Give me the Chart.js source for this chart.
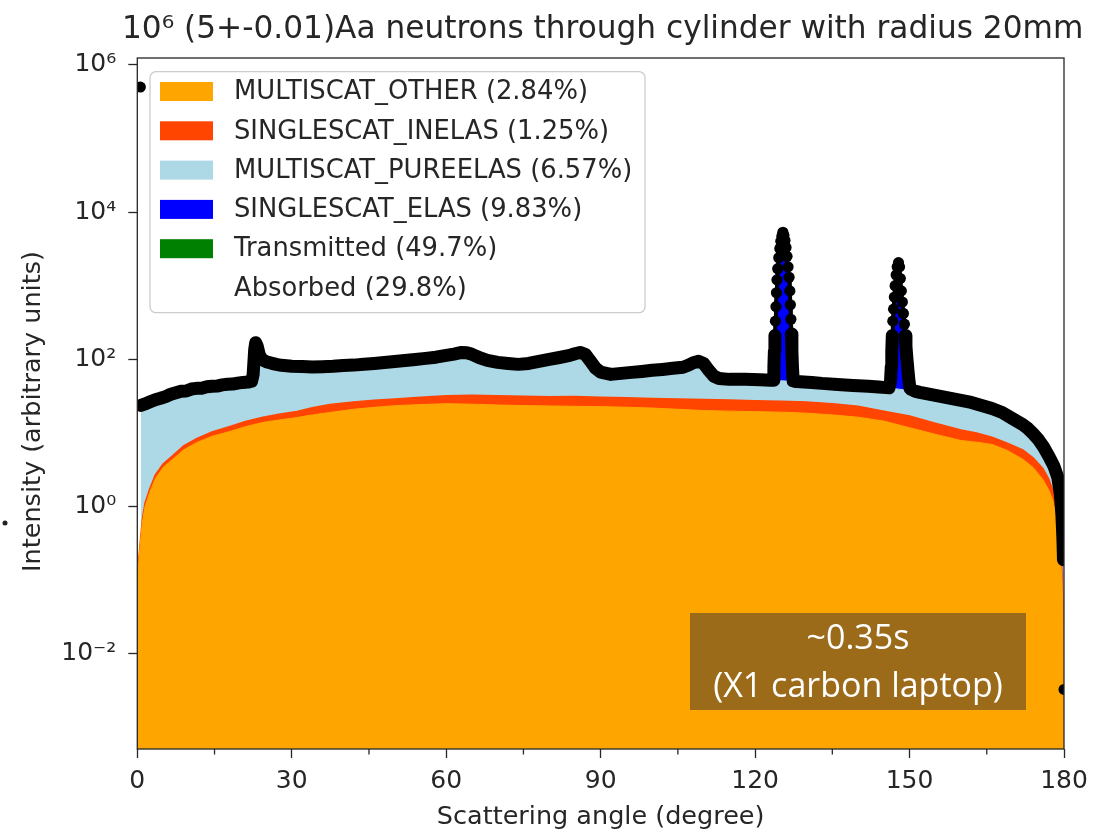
<!DOCTYPE html>
<html>
<head>
<meta charset="utf-8">
<script src="https://cdn.jsdelivr.net/npm/chart.js@4.4.1/dist/chart.umd.min.js"></script>
<style>
  html, body { margin: 0; padding: 0; background: #fff; }
  #contenedorCanvas { width: 1103px; height: 829px; }
</style>
</head>
<body>
<div id="contenedorCanvas"><canvas id="grafNeutrones" width="1103" height="829"></canvas></div>
<script>

// nivel superior de la banda negra / azul claro (sin los picos de Bragg)
let anguloBase = [0.7, 1.5, 2.5, 3.5, 4.5, 5.5, 6.5, 7.5, 8.5, 9.5, 10.5, 11.5, 12.5, 13.5, 14.5, 15.5,
    16.5, 17.5, 18.5, 19.5, 20.5, 21.5, 22.2, 22.5, 22.8, 23.0, 23.3, 23.7, 24.2, 25, 26, 27, 28, 30, 32,
    34, 36, 38, 40, 42, 44, 46, 48, 50, 52, 54, 56, 58, 60, 61.5, 63, 64, 65, 66.5, 68, 70, 72, 74, 76,
    78, 80, 82, 84, 85, 86, 87, 88, 89, 90, 92, 94, 96, 98, 100, 102, 104, 106, 107, 108, 109, 110, 111,
    112, 113, 115, 118, 121, 123, 128, 131, 133, 136, 139, 142, 144, 145.5, 151, 152, 154, 156, 158, 160,
    162, 164, 166, 168, 170, 171, 172, 173, 174, 175, 176, 177, 178, 178.8, 179.3, 179.6, 179.8, 179.9]
let cuentaBase = [23.7, 24.8, 26.5, 28.3, 29.6, 31.2, 33.6, 35.2, 36.9, 37.2, 39.5, 40.4, 40.6, 42.4, 43.1, 43.4,
    45.0, 45.9, 46.1, 47.6, 48.6, 49.1, 50.5, 62, 135, 168, 150, 115, 100, 93, 89, 85.5, 83, 80.5, 80,
    78.5, 79.5, 80.5, 82.5, 83.5, 85.5, 88, 90.5, 93.5, 96.5, 99.5, 103, 107, 113, 118, 124, 123, 117, 105, 97, 91, 88, 85.5, 88,
    94, 100, 106, 113, 119, 124, 117, 95, 76, 67, 62.5, 64.5, 66.5, 68.5, 71, 73, 75.5, 78, 83, 90, 94, 88, 71,
    59, 55, 53.5, 53.5, 53, 52, 50, 48.6, 47.2, 45.7, 44.3, 43, 42, 41.3, 37, 35.6, 33.4, 31.4, 29.5, 27.7,
    26, 23.7, 21.5, 19, 15.7, 14.3, 13, 11.5, 9.8, 8.2, 6.5, 4.9, 3.6, 2.5, 1.46, 0.76, 0.35, 0.19]

// picos de dispersion elastica simple (SINGLESCAT_ELAS encima del fondo)
let anguloPico = [123.5, 123.65, 123.75, 123.85, 123.95, 124.05, 124.15, 124.25, 124.4, 124.6, 124.8, 125.0,
    125.2, 125.4, 125.6, 125.8, 126.0, 126.2, 126.4, 126.6, 126.75, 126.85, 126.95, 127.05, 127.15, 127.25, 127.4,
    146.0, 146.3, 146.45, 146.55, 146.65, 146.75, 146.9, 147.05, 147.2, 147.4, 147.6, 147.85, 148.05, 148.2,
    148.4, 148.6, 148.8, 149.0, 149.15, 149.3, 149.5, 149.7, 149.9, 150.1]
let cuentaPico = [52, 80, 130, 210, 330, 520, 800, 1200, 1700, 2400, 3200, 4000,
    4700, 5300, 4800, 4100, 3300, 2500, 1800, 1300, 850, 550, 350, 220, 130, 80, 51,
    41, 50, 80, 130, 210, 330, 480, 700, 1000, 1400, 1800, 2050, 1800, 1250,
    850, 600, 420, 300, 210, 150, 100, 70, 50, 40]

// bins sueltos: transmitidos en 0 grados y el ultimo bin
let anguloAislado = [0.6, 180]
let cuentaAislado = [497000, 0.0033]

// niveles apilados de MULTISCAT_OTHER y SINGLESCAT_INELAS
let anguloOtros = [0, 0.3, 0.6, 1.0, 1.5, 2.4, 3.5, 5, 6.9, 9, 11.5, 14.5, 18, 21, 24.4, 27.5, 31, 34, 37.4,
    42, 46, 50, 55, 60, 65, 70, 75, 80, 85, 90, 95, 100, 105, 110, 115, 120, 125, 130, 135, 140, 145,
    150, 155, 160, 163, 166, 169, 172, 174, 175.9, 177, 177.8, 178.4, 178.8, 179.2, 179.6, 179.8, 180]
let nivelOtros = [0.1, 0.18, 0.32, 0.62, 1.0, 1.55, 2.4, 3.4, 4.4, 5.9, 7.4, 9.0, 10.5, 12.2, 13.9, 15.0, 16.2, 17.6, 19.0,
    21.0, 22.3, 23.5, 24.3, 25.0, 24.6, 24.0, 23.6, 23.3, 23.0, 22.8, 22.4, 21.8, 21.0, 20.2, 19.8, 19.5, 19.2, 18.6, 17.6, 16.4, 14.5,
    11.8, 9.6, 7.9, 7.5, 7.0, 5.8, 4.4, 3.4, 2.33, 1.7, 1.24, 0.8, 0.49, 0.25, 0.10, 0.036, 0.0015]
let nivelInelas = [0.11, 0.2, 0.35, 0.69, 1.12, 1.74, 2.7, 3.8, 4.95, 6.7, 8.4, 10.3, 12.3, 14.3, 16.4, 18.0, 19.6, 22.0, 24.4,
    26.3, 27.8, 29.0, 30.5, 32.0, 32.5, 32.0, 31.5, 31.0, 31.2, 30.5, 30.0, 29.5, 29.0, 28.4, 28.0, 27.5, 27.0, 26.3, 25.0, 23.0, 19.8,
    17.0, 13.6, 11.0, 10.0, 8.8, 7.3, 5.9, 4.6, 3.3, 2.4, 1.7, 1.1, 0.68, 0.34, 0.14, 0.05, 0.002]

let componentes = ['MULTISCAT_OTHER', 'SINGLESCAT_INELAS', 'MULTISCAT_PUREELAS', 'SINGLESCAT_ELAS', 'Transmitted', 'Absorbed']
let porcentajes = ['2.84', '1.25', '6.57', '9.83', '49.7', '29.8']
let colores = ['#ffa500', '#ff4500', '#add8e6', '#0000ff', '#008000', null]

let marcasX = [0, 30, 60, 90, 120, 150, 180]
let marcasMenoresX = [15, 45, 75, 105, 135, 165]
let valoresY = [1e-2, 1, 1e2, 1e4, 1e6]
let etiquetasY = ['10⁻²', '10⁰', '10²', '10⁴', '10⁶']

let titulo = '10⁶ (5+-0.01)Aa neutrons through cylinder with radius 20mm'
let tituloY = 'Intensity (arbitrary units)'
let nota = ['~0.35s', '(X1 carbon laptop)']

let colorTexto = '#262626'
Chart.defaults.font.family = "'DejaVu Sans', sans-serif"
Chart.defaults.color = colorTexto

let aPuntos = (xs, ys) => xs.map((a, i) => ({x: a, y: ys[i]}))
let puntosBase = aPuntos(anguloBase, cuentaBase)
let puntosTotal = puntosBase.concat(aPuntos(anguloPico, cuentaPico)).sort((p, q) => p.x - q.x)

// marco completo, marcas menores, titulos, leyenda y recuadro de tiempo
let extras = {
    id: 'extras',
    afterDatasetsDraw(chart) {
        let ctx = chart.ctx
        let area = chart.chartArea
        let ejeX = chart.scales.x
        ctx.save()
        ctx.strokeStyle = colorTexto
        ctx.lineWidth = 1.3
        marcasMenoresX.forEach(v => {
            let px = ejeX.getPixelForValue(v)
            ctx.beginPath()
            ctx.moveTo(px, area.bottom)
            ctx.lineTo(px, area.bottom + 5.5)
            ctx.stroke()
        })
        ctx.strokeRect(area.left, area.top, area.right - area.left, area.bottom - area.top)
        ctx.restore()
    },
    afterDraw(chart) {
        let ctx = chart.ctx
        let area = chart.chartArea
        ctx.save()

        ctx.fillStyle = colorTexto
        ctx.font = "31.2px 'DejaVu Sans'"
        ctx.textAlign = 'center'
        ctx.textBaseline = 'alphabetic'
        ctx.fillText(titulo, (area.left + area.right) / 2 + 2, area.top - 20)

        ctx.save()
        ctx.translate(33, (area.top + area.bottom) / 2 + 8)
        ctx.rotate(-Math.PI / 2)
        ctx.font = "25.5px 'DejaVu Sans'"
        ctx.textBaseline = 'middle'
        ctx.fillText(tituloY, 0, 0)
        ctx.restore()

        let x0 = area.left + 12.7
        let y0 = area.top + 13.7
        ctx.beginPath()
        ctx.roundRect(x0, y0, 495, 241, 6)
        ctx.fillStyle = 'rgba(255,255,255,0.8)'
        ctx.fill()
        ctx.strokeStyle = '#cccccc'
        ctx.lineWidth = 1.3
        ctx.stroke()

        ctx.font = "25.8px 'DejaVu Sans'"
        ctx.textAlign = 'left'
        ctx.textBaseline = 'middle'
        componentes.forEach((c, i) => {
            let yc = y0 + 19.8 + i * 39.3
            if (colores[i]) {
                ctx.fillStyle = colores[i]
                ctx.fillRect(x0 + 10, yc - 9.5, 53, 19)
            }
            ctx.fillStyle = colorTexto
            ctx.fillText(`${c} (${porcentajes[i]}%)`, x0 + 84, yc + 1)
        })

        ctx.fillStyle = '#9b6b1a'
        ctx.fillRect(690, 613, 336, 97)
        ctx.fillStyle = '#ffffff'
        ctx.font = "34px 'Open Sans'"
        ctx.textAlign = 'center'
        ctx.fillText(nota[0], 858, 639)
        ctx.fillText(nota[1], 858, 687)

        ctx.fillStyle = '#222'
        ctx.beginPath()
        ctx.arc(5, 523, 2.5, 0, Math.PI * 2)
        ctx.fill()
        ctx.restore()
    }
}

new Chart(document.querySelector('#grafNeutrones'), {
    type: 'line',
    data: {
        datasets: [
            {
                label: 'bins aislados',
                data: aPuntos(anguloAislado, cuentaAislado),
                showLine: false,
                pointRadius: 5.5,
                pointBorderWidth: 0,
                pointBackgroundColor: '#000'
            },
            {
                label: 'total',
                data: puntosTotal,
                borderColor: '#000',
                borderWidth: 13,
                borderJoinStyle: 'round',
                borderCapStyle: 'round',
                // en los picos de Bragg solo se ven los marcadores
                segment: {
                    borderWidth: s => (s.p0.parsed.y > 200 && s.p1.parsed.y > 200) ? 4 : 13
                },
                pointRadius: 5.6,
                pointBorderWidth: 0,
                pointBackgroundColor: '#000',
                fill: false
            },
            {
                label: componentes[0],
                data: aPuntos(anguloOtros, nivelOtros),
                borderColor: colores[0],
                borderWidth: 1,
                backgroundColor: colores[0],
                pointRadius: 0,
                fill: 'start'
            },
            {
                label: componentes[1],
                data: aPuntos(anguloOtros, nivelInelas),
                borderColor: colores[1],
                borderWidth: 1.5,
                backgroundColor: colores[1],
                pointRadius: 0,
                fill: 'start'
            },
            {
                label: componentes[2],
                data: puntosBase,
                borderColor: colores[2],
                borderWidth: 1,
                backgroundColor: colores[2],
                pointRadius: 0,
                fill: 'start'
            },
            {
                label: componentes[3],
                data: puntosTotal,
                borderColor: colores[3],
                borderWidth: 1,
                backgroundColor: colores[3],
                pointRadius: 0,
                fill: 'start'
            }
        ]
    },
    options: {
        responsive: false,
        animation: false,
        layout: { padding: { left: 0, right: 39, top: 58, bottom: 0 } },
        plugins: {
            legend: { display: false },
            tooltip: { enabled: false },
            title: { display: false }
        },
        scales: {
            x: {
                type: 'linear',
                min: 0,
                max: 180,
                afterBuildTicks: eje => { eje.ticks = marcasX.map(v => ({ value: v })) },
                afterFit: eje => { eje.height = 80; eje.paddingLeft = 0; eje.paddingRight = 0 },
                grid: { drawOnChartArea: false, tickLength: 9, tickColor: colorTexto, tickWidth: 1.3 },
                border: { display: false },
                ticks: { font: { size: 25 }, padding: 8, maxRotation: 0, autoSkip: false },
                title: {
                    display: true,
                    text: 'Scattering angle (degree)',
                    font: { size: 25.5, lineHeight: 0.8 },
                    padding: { top: 0, bottom: 1 }
                }
            },
            y: {
                type: 'logarithmic',
                min: 5.13e-4,
                max: 1.233e6,
                afterBuildTicks: eje => { eje.ticks = valoresY.map(v => ({ value: v })) },
                afterFit: eje => { eje.width = 137.3; eje.paddingTop = 0; eje.paddingBottom = 0 },
                grid: { drawOnChartArea: false, tickLength: 9, tickColor: colorTexto, tickWidth: 1.3 },
                border: { display: false },
                ticks: {
                    font: { size: 25 },
                    padding: 12,
                    autoSkip: false,
                    callback: v => etiquetasY[valoresY.indexOf(v)]
                }
            }
        }
    },
    plugins: [extras]
})
</script>
</body>
</html>
